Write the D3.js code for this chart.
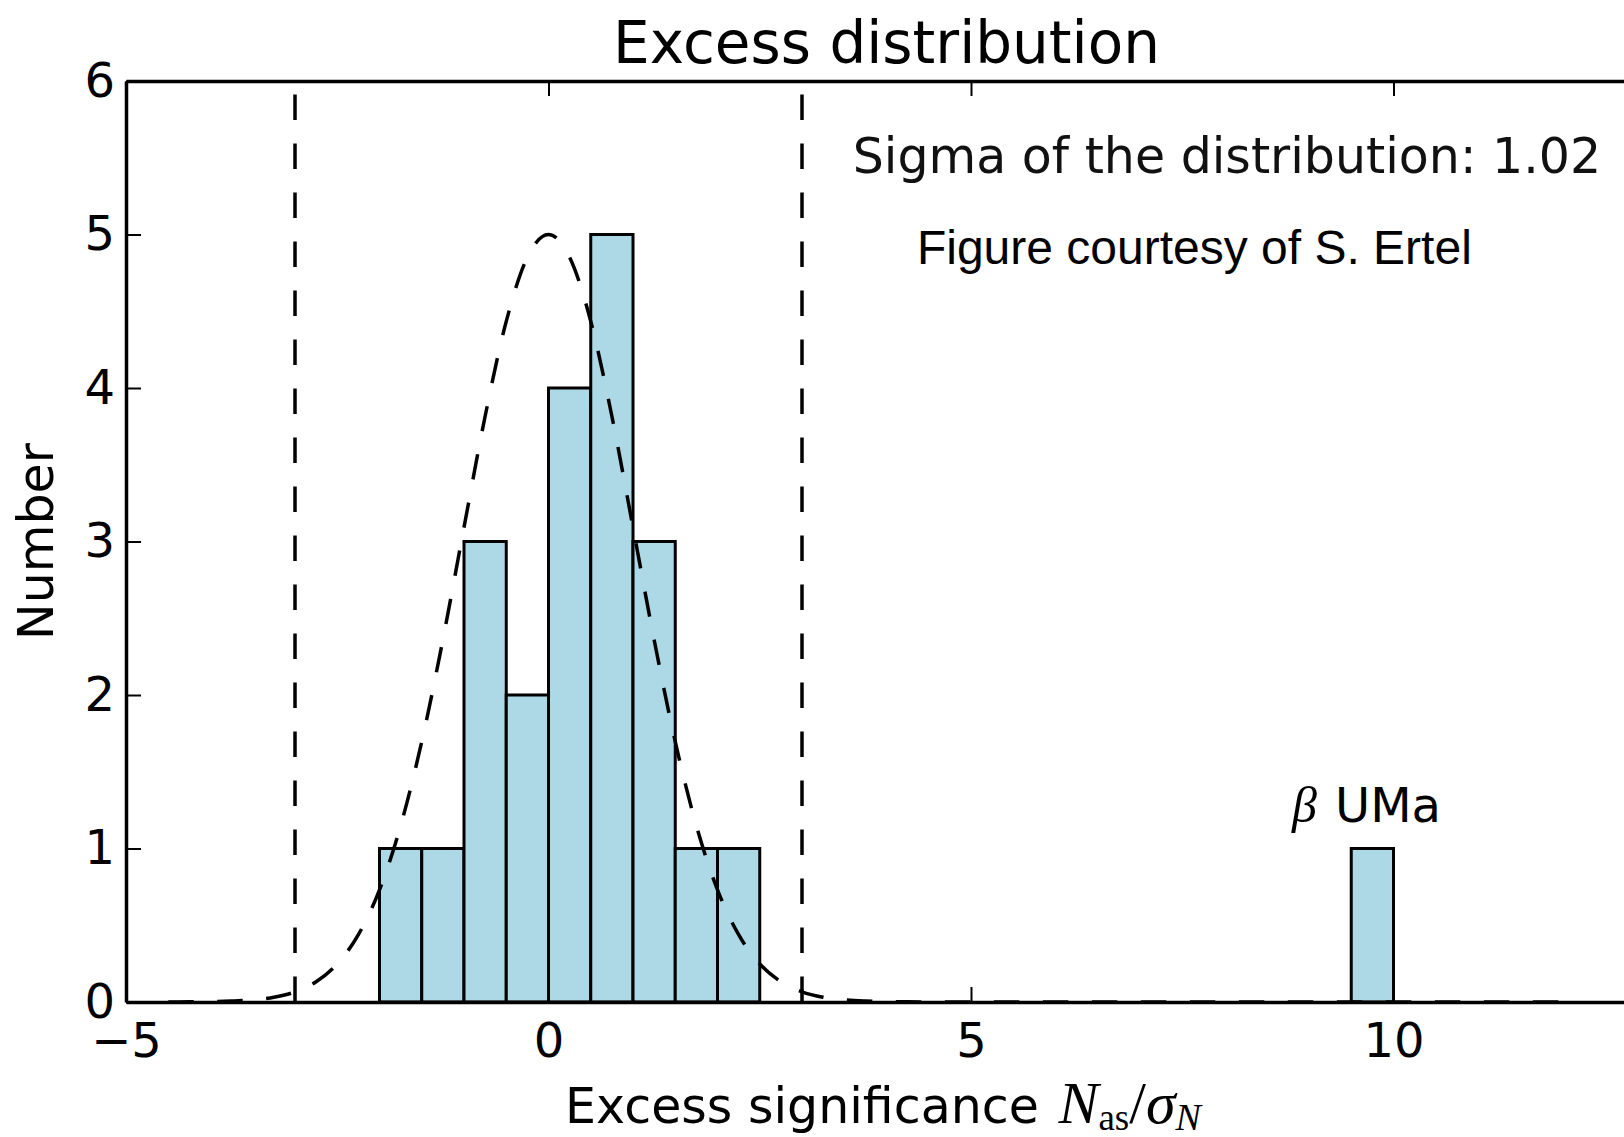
<!DOCTYPE html>
<html>
<head>
<meta charset="utf-8">
<script src="https://cdn.jsdelivr.net/npm/d3@7"></script>
<style>
  html, body { margin: 0; padding: 0; background: #fff; }
  svg { display: block; }
</style>
</head>
<body>
<svg id="chart" width="1624" height="1137"></svg>
<script>
// Histogram of excess significance with a Gaussian fit and ±3σ markers.
const binLeft   = [-2, -1.5, -1, -0.5, 0, 0.5, 1, 1.5, 2, 9.5];
const binCounts = [ 1,    1,  3,    2, 4,   5, 3,   1, 1,   1];
const binWidth  = 0.5;

// Fitted Gaussian (sigma = 1.02), sampled along x
const fitX = [-4.5, -4.25, -4, -3.75, -3.5, -3.25, -3, -2.75, -2.5, -2.25, -2, -1.75, -1.5, -1.25, -1, -0.75, -0.5, -0.25,
              0, 0.25, 0.5, 0.75, 1, 1.25, 1.5, 1.75, 2, 2.25, 2.5, 2.75, 3, 3.25, 3.5, 3.75, 4, 4.25, 4.5, 12];
const fitY = [0.000, 0.001, 0.002, 0.006, 0.014, 0.031, 0.066, 0.132, 0.248, 0.439, 0.731, 1.148, 1.696, 2.360, 3.092, 3.816, 4.434, 4.852,
              5.000, 4.852, 4.434, 3.816, 3.092, 2.360, 1.696, 1.148, 0.731, 0.439, 0.248, 0.132, 0.066, 0.031, 0.014, 0.006, 0.002, 0.001, 0.000, 0.000];

// ±3σ limits
const limitX = [-3.0, 3.0];

const xTicks = [-5, 0, 5, 10];
const yTicks = [0, 1, 2, 3, 4, 5, 6];
const xDomain = [-5, 13];
const yDomain = [0, 6];

const titleText = "Excess distribution";
const yLabelText = "Number";
const sigmaText = "Sigma of the distribution: 1.02";
const creditText = "Figure courtesy of S. Ertel";
const starName = "UMa";

const svg = d3.select("#chart");
const W = 1624, H = 1137;
svg.append("rect").attr("width", W).attr("height", H).attr("fill", "#fff");

const plotLeft = 126, plotRight = 1647, plotTop = 81, plotBottom = 1002;
const x = d3.scaleLinear().domain(xDomain).range([plotLeft, plotRight]);
const y = d3.scaleLinear().domain(yDomain).range([plotBottom, plotTop]);

const sans = "'DejaVu Sans', sans-serif";
const serif = "'Liberation Serif', 'DejaVu Serif', serif";

// bars
svg.append("g").selectAll("rect")
  .data(binLeft.map((b, i) => ({ x0: b, x1: b + binWidth, n: binCounts[i] })))
  .join("rect")
  .attr("x", d => x(d.x0))
  .attr("y", d => y(d.n))
  .attr("width", d => x(d.x1) - x(d.x0))
  .attr("height", d => y(0) - y(d.n))
  .attr("fill", "#add8e6")
  .attr("stroke", "#000")
  .attr("stroke-width", 3);

const dash = "25.5,23.5";

// vertical limit lines, drawn bottom to top
svg.append("g").selectAll("line")
  .data(limitX)
  .join("line")
  .attr("x1", d => x(d)).attr("x2", d => x(d))
  .attr("y1", y(yDomain[0])).attr("y2", y(yDomain[1]))
  .attr("stroke", "#000")
  .attr("stroke-width", 3.5)
  .attr("stroke-dasharray", dash);

// Gaussian fit curve
const line = d3.line()
  .x(d => x(d[0]))
  .y(d => y(d[1]))
  .curve(d3.curveMonotoneX);
svg.append("path")
  .datum(fitX.map((v, i) => [v, fitY[i]]))
  .attr("d", line)
  .attr("fill", "none")
  .attr("stroke", "#000")
  .attr("stroke-width", 3.5)
  .attr("stroke-dasharray", dash);

// axes with inward ticks
function styleAxis(g) {
  g.select(".domain").attr("stroke", "#000").attr("stroke-width", 3.5);
  g.selectAll(".tick line").attr("stroke", "#000").attr("stroke-width", 2);
  g.selectAll(".tick text").attr("fill", "#000");
  g.attr("font-family", sans).attr("font-size", 48);
}

const intFmt = d3.format("d");

svg.append("g")
  .attr("transform", `translate(0,${plotBottom})`)
  .call(d3.axisBottom(x).tickValues(xTicks).tickSizeInner(-15).tickSizeOuter(0).tickPadding(21))
  .call(styleAxis);

svg.append("g")
  .attr("transform", `translate(0,${plotTop})`)
  .call(d3.axisTop(x).tickValues(xTicks).tickSizeInner(-15).tickSizeOuter(0).tickFormat(""))
  .call(styleAxis);

svg.append("g")
  .attr("transform", `translate(${plotLeft},0)`)
  .call(d3.axisLeft(y).tickValues(yTicks).tickFormat(intFmt).tickSizeInner(-15).tickSizeOuter(0).tickPadding(11))
  .call(styleAxis);

svg.append("g")
  .attr("transform", `translate(${plotRight},0)`)
  .call(d3.axisRight(y).tickValues(yTicks).tickSizeInner(-15).tickSizeOuter(0).tickFormat(""))
  .call(styleAxis);

// title
svg.append("text")
  .attr("x", (plotLeft + plotRight) / 2).attr("y", 63)
  .attr("text-anchor", "middle")
  .attr("font-family", sans).attr("font-size", 58)
  .attr("fill", "#000")
  .text(titleText);

// y label
svg.append("text")
  .attr("transform", `translate(53,${(plotTop + plotBottom) / 2}) rotate(-90)`)
  .attr("text-anchor", "middle")
  .attr("font-family", sans).attr("font-size", 49)
  .attr("fill", "#000")
  .text(yLabelText);

// x label with math part
const xl = svg.append("text")
  .attr("x", 883).attr("y", 1123)
  .attr("text-anchor", "middle")
  .attr("fill", "#000");
xl.append("tspan").attr("font-family", sans).attr("font-size", 49).text("Excess significance ");
xl.append("tspan").attr("font-family", serif).attr("font-style", "italic").attr("font-size", 60).attr("dx", 4).text("N");
xl.append("tspan").attr("font-family", serif).attr("font-size", 37).attr("dy", 7).text("as");
xl.append("tspan").attr("font-family", serif).attr("font-size", 60).attr("dy", -7).text("/");
xl.append("tspan").attr("font-family", serif).attr("font-style", "italic").attr("font-size", 60).text("σ");
xl.append("tspan").attr("font-family", serif).attr("font-style", "italic").attr("font-size", 38).attr("dy", 7).text("N");

// annotations
svg.append("text")
  .attr("x", x(3.6)).attr("y", y(5.4))
  .attr("font-family", sans).attr("font-size", 49)
  .attr("fill", "#111")
  .text(sigmaText);

svg.append("text")
  .attr("x", x(4.36)).attr("y", y(4.81))
  .attr("font-family", "'Liberation Sans', Arial, sans-serif").attr("font-size", 48)
  .attr("fill", "#000")
  .text(creditText);

const star = svg.append("text")
  .attr("x", x(8.8)).attr("y", y(1.17))
  .attr("fill", "#000");
star.append("tspan").attr("font-family", serif).attr("font-style", "italic").attr("font-size", 50).text("β");
star.append("tspan").attr("font-family", sans).attr("font-size", 48).attr("dx", 18).text(starName);
</script>
</body>
</html>
